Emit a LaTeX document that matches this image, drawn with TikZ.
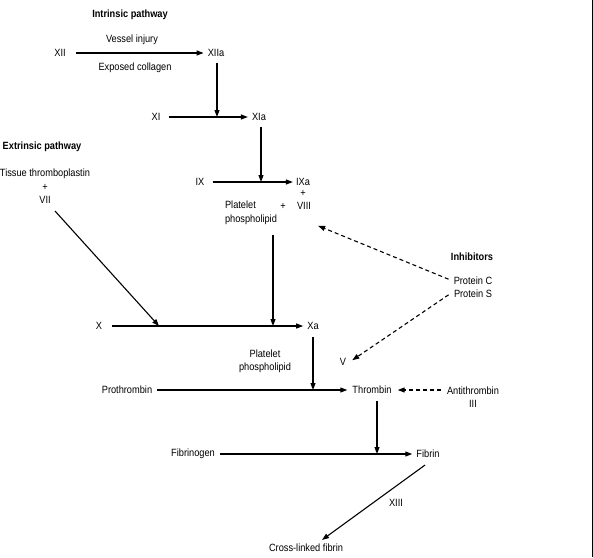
\documentclass[tikz,border=0pt]{standalone}
\usepackage{fontspec}
\setmainfont{Liberation Sans}[FakeStretch=0.88]
\usetikzlibrary{arrows.meta}
\begin{document}
\begin{tikzpicture}[x=1pt,y=-1pt,
  lbl/.style={inner sep=0pt, font=\fontsize{10.5}{13.5}\selectfont, align=center},
  hdr/.style={inner sep=0pt, font=\fontsize{10.5}{13.5}\selectfont\bfseries, align=center},
  ln/.style={line width=1.1pt},
  arr/.style={line width=1.1pt, -{Triangle[length=7pt,width=5pt]}},
  dsh/.style={arr, dash pattern=on 4pt off 3pt}]
\useasboundingbox (0,0) rectangle (593,557);
\fill[white] (0,0) rectangle (593,557);
\draw[line width=1pt] (592,0) -- (592,557);

% intrinsic
\node[hdr] (intr) at (130,15) {Intrinsic pathway};
\node[lbl] (XII) at (60,53) {XII};
\node[lbl] (XIIa) at (216,53) {XIIa};
\node[lbl] (vi) at (132,40) {Vessel injury};
\node[lbl] (ec) at (135,68) {Exposed collagen};
\node[lbl] (XI) at (156,117) {XI};
\node[lbl] (XIa) at (259,117) {XIa};
\node[lbl] (IX) at (200,182) {IX};
\node[lbl] (IXa) at (303,182) {IXa};
\node[lbl] (plus1) at (303,193) {+};
\node[lbl] (VIII) at (304,206) {VIII};
\node[lbl, align=left] (pp1) at (251,213) {Platelet\\phospholipid};
\node[lbl] (plus2) at (283,206) {+};

% extrinsic
\node[hdr] (extr) at (42,147) {Extrinsic pathway};
\node[lbl] (tt) at (45,186.5) {Tissue thromboplastin\\+\\VII};

\node[lbl] (X) at (99,326) {X};
\node[lbl] (Xa) at (313,326) {Xa};

% inhibitors
\node[hdr] (inh) at (472,257) {Inhibitors};
\node[lbl] (pcs) at (473,287) {Protein C\\Protein S};
\node[lbl] (V) at (343,362) {V};

\node[lbl] (pp2) at (265,361.5) {Platelet\\phospholipid};
\node[lbl] (proth) at (127,390) {Prothrombin};
\node[lbl] (thr) at (372,390) {Thrombin};
\node[lbl] (at) at (473,397) {Antithrombin\\III};

\node[lbl] (fbg) at (193,454) {Fibrinogen};
\node[lbl] (fib) at (428,454) {Fibrin};
\node[lbl] (XIII) at (396,503) {XIII};
\node[lbl] (clf) at (306,548) {Cross-linked fibrin};

% connectors
\draw[arr] ([xshift=10pt]XII.east) -- ([xshift=-4pt]XIIa.west);
\draw[arr] ([xshift=1pt,yshift=-6pt]XIIa.south) -- ([xshift=1pt]XIIa.center |- XI.center);
\draw[arr] ([xshift=8pt]XI.east) -- ([xshift=-4pt]XIa.west);
\draw[arr] ([xshift=2pt,yshift=-6pt]XIa.south) -- ([xshift=2pt]XIa.center |- IX.center);
\draw[arr] ([xshift=8pt]IX.east) -- ([xshift=-3pt]IXa.west);
\coordinate (d1e) at (159,324);
\draw[arr] ([xshift=10pt,yshift=-7pt]tt.south) -- (d1e |- X.center);
\draw[arr] ([xshift=22pt,yshift=-10pt]pp1.south) -- ([xshift=22pt]pp1.south |- X.center);
\draw[arr] ([xshift=10pt]X.east) -- ([xshift=-4pt]Xa.west);
\draw[dsh] ([xshift=-5pt,yshift=-3pt]pcs.north west) -- ([xshift=7pt,yshift=-16pt]VIII.south east);
\draw[dsh] ([xshift=-5pt,yshift=3pt]pcs.south west) -- ([xshift=6pt,yshift=-2pt]V.north east);
\draw[arr] ([yshift=-7pt]Xa.south) -- (Xa.center |- thr.center);
\draw[arr] ([xshift=5pt]proth.east) -- ([xshift=-5pt]thr.west);
\draw[dsh] ([xshift=-6pt,yshift=7pt]at.west) -- ([xshift=6pt]thr.east);
\draw[arr] ([xshift=5pt,yshift=-7pt]thr.south) -- ([xshift=5pt]thr.center |- fib.center);
\draw[arr] ([xshift=-3pt,yshift=-7pt]fib.south) -- ([xshift=16pt,yshift=4pt]clf.north);
\draw[arr] ([xshift=5pt]fbg.east) -- ([xshift=-4pt]fib.west);
\end{tikzpicture}
\end{document}
